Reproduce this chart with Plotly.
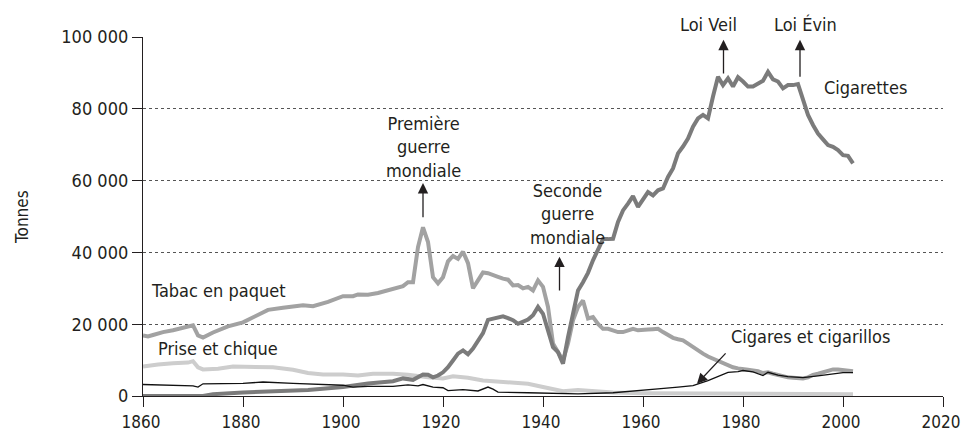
import plotly.graph_objects as go

# Consommation de tabac en France (tonnes)
tabac_years = [1860, 1861, 1862, 1864, 1866, 1868, 1870, 1871, 1872, 1874, 1877, 1880, 1884, 1885,
               1888, 1890, 1892, 1894, 1897, 1900, 1902, 1903, 1905, 1907, 1910, 1912, 1913, 1914,
               1915, 1916, 1917, 1918, 1919, 1920, 1921, 1922, 1923, 1924, 1925, 1926, 1927, 1928,
               1929, 1930, 1931, 1932, 1933, 1934, 1935, 1936, 1937, 1938, 1939, 1940, 1941, 1942,
               1943, 1944, 1945, 1946, 1947, 1948, 1949, 1950, 1951, 1952, 1953, 1954, 1955, 1956,
               1957, 1958, 1959, 1960, 1961, 1962, 1963, 1964, 1965, 1966, 1967, 1968, 1969, 1970,
               1971, 1972, 1973, 1974, 1975, 1976, 1977, 1978, 1979, 1980, 1981, 1982, 1983, 1984,
               1985, 1986, 1987, 1988, 1989, 1990, 1991, 1992, 1993, 1994, 1995, 1996, 1997, 1998,
               1999, 2000, 2001, 2002]
tabac = [16900, 16600, 17000, 17800, 18300, 19100, 19700, 16900, 16300, 17700, 19400, 20500, 23300, 24000,
         24600, 25000, 25300, 25000, 26200, 27800, 27800, 28300, 28200, 28700, 30000, 30600, 31700, 31700,
         41500, 47000, 42900, 33100, 31400, 33100, 37500, 39000, 38200, 40200, 37000, 30000, 32200, 34400,
         34200, 33800, 33200, 32700, 32400, 30800, 30900, 30000, 30400, 29400, 32200, 30400, 24800, 14600,
         12200, 9900, 14600, 21100, 24800, 26600, 21600, 22000, 20100, 18700, 18700, 18300, 17800, 17800,
         18300, 18700, 18300, 18500, 18500, 18600, 18700, 17800, 16900, 16200, 15800, 15500, 14600, 13600,
         12700, 11800, 11000, 10400, 9700, 9200, 8600, 8000, 7700, 7400, 7300, 7100, 6900, 6400,
         6600, 6200, 5800, 5400, 5200, 5100, 5100, 4900, 5200, 5900, 6200, 6600, 7100, 7400,
         7400, 7300, 7100, 6900]

cig_years = [1860, 1872, 1874, 1880, 1893, 1900, 1905, 1908, 1910, 1912, 1914, 1916, 1917, 1918,
             1919, 1920, 1921, 1922, 1923, 1924, 1925, 1926, 1927, 1928, 1929, 1930, 1931, 1932,
             1933, 1934, 1935, 1936, 1937, 1938, 1939, 1940, 1941, 1942, 1943, 1944, 1945, 1946,
             1947, 1948, 1949, 1950, 1951, 1952, 1953, 1954, 1955, 1956, 1957, 1958, 1959, 1960,
             1961, 1962, 1963, 1964, 1965, 1966, 1967, 1968, 1969, 1970, 1971, 1972, 1973, 1974,
             1975, 1976, 1977, 1978, 1979, 1980, 1981, 1982, 1983, 1984, 1985, 1986, 1987, 1988,
             1989, 1990, 1991, 1992, 1993, 1994, 1995, 1996, 1997, 1998, 1999, 2000, 2001, 2002]
cigarettes = [0, 0, 500, 1000, 1700, 2500, 3500, 3900, 4100, 4900, 4500, 6000, 5900, 5200,
              5700, 6600, 8000, 9900, 11800, 12700, 11600, 13200, 15500, 17500, 21200, 21500, 22000, 22200,
              21700, 21100, 20100, 20600, 21300, 22500, 24800, 22900, 18300, 13600, 12200, 9000, 16400, 22900,
              29400, 31700, 34300, 37800, 41100, 43700, 43700, 43800, 48500, 51700, 53600, 55700, 52700, 55000,
              56800, 55900, 57300, 57800, 61000, 63400, 67600, 69500, 71700, 75000, 77300, 78300, 77300, 83400,
              88900, 86600, 88500, 86200, 88800, 87600, 86200, 86200, 87100, 87800, 90300, 88200, 87600, 85700,
              86600, 86600, 86900, 82400, 78300, 75500, 73100, 71500, 69900, 69400, 68500, 67100, 66900, 64800]

prise_years = [1860, 1863, 1866, 1869, 1870, 1871, 1872, 1875, 1878, 1884, 1886, 1890, 1893, 1896,
               1900, 1903, 1906, 1910, 1913, 1917, 1920, 1922, 1925, 1928, 1933, 1937, 1940, 1942,
               1944, 1947, 1954, 1960, 1980, 2002]
prise = [8200, 8800, 9100, 9300, 9700, 8000, 7400, 7600, 8200, 8200, 8000, 7300, 6400, 6000,
         6000, 5700, 6200, 6200, 5900, 5200, 4900, 5500, 5100, 4300, 3900, 3400, 2500, 2000,
         1300, 1700, 1000, 800, 600, 500]

cigares_years = [1860, 1865, 1870, 1871, 1872, 1880, 1884, 1890, 1895, 1900, 1902, 1905, 1910, 1913,
                 1915, 1916, 1918, 1920, 1921, 1924, 1927, 1929, 1930, 1931, 1937, 1940, 1941, 1947,
                 1954, 1960, 1963, 1967, 1970, 1973, 1975, 1977, 1979, 1980, 1982, 1984, 1985, 1987,
                 1989, 1991, 1992, 1995, 1997, 2000, 2002]
cigares = [3200, 3100, 2800, 2500, 3400, 3500, 3900, 3500, 3200, 3000, 2500, 2700, 2700, 3100,
           2800, 3200, 2500, 2300, 1500, 1800, 1400, 2500, 1900, 1100, 900, 800, 600, 600,
           900, 1500, 2000, 2500, 2900, 4300, 5400, 6600, 6800, 7100, 6700, 5700, 6600, 5800,
           5400, 5200, 5100, 5600, 6000, 6500, 6500]

x_ticks = [1860, 1880, 1900, 1920, 1940, 1960, 1980, 2000, 2020]
y_ticks = [0, 20000, 40000, 60000, 80000, 100000]
y_labels = ["0", "20 000", "40 000", "60 000", "80 000", "100 000"]

FONT = "Liberation Sans Narrow, DejaVu Sans Condensed, Arial Narrow, sans-serif"
TXT = "#231f20"

fig = go.Figure()
fig.add_trace(go.Scatter(x=prise_years, y=prise, mode="lines", name="Prise et chique",
                         line=dict(color="#cdcdcd", width=4)))
fig.add_trace(go.Scatter(x=tabac_years, y=tabac, mode="lines", name="Tabac en paquet",
                         line=dict(color="#a2a2a2", width=4)))
fig.add_trace(go.Scatter(x=cig_years, y=cigarettes, mode="lines", name="Cigarettes",
                         line=dict(color="#7b7b7b", width=4)))
fig.add_trace(go.Scatter(x=cigares_years, y=cigares, mode="lines", name="Cigares et cigarillos",
                         line=dict(color="#111111", width=1.3)))

annotations = []
# series labels
for txt, x, y in [("Tabac en paquet", 1875, 29500), ("Prise et chique", 1875, 13300),
                  ("Cigarettes", 2004.5, 86000), ("Cigares et cigarillos", 1993.5, 16500)]:
    annotations.append(dict(x=x, y=y, text=txt, showarrow=False, xanchor="center", yanchor="middle"))

# event labels
annotations.append(dict(x=1916, y=69500, text="Première<br>guerre<br>mondiale", showarrow=False,
                        xanchor="center", yanchor="middle"))
annotations.append(dict(x=1944.8, y=50800, text="Seconde<br>guerre<br>mondiale", showarrow=False,
                        xanchor="center", yanchor="middle"))
annotations.append(dict(x=1973, y=1.034, yref="paper", text="Loi Veil", showarrow=False,
                        xanchor="center", yanchor="middle"))
annotations.append(dict(x=1992.4, y=1.034, yref="paper", text="Loi Évin", showarrow=False,
                        xanchor="center", yanchor="middle"))

# arrows
for x, y, ax, ay in [(1916, 59300, 1916, 49400), (1943.3, 38800, 1943.3, 29000),
                     (1976.1, 99200, 1976.1, 89400), (1991.4, 99200, 1991.4, 88500),
                     (1970.8, 3400, 1976.8, 12300)]:
    annotations.append(dict(x=x, y=y, ax=ax, ay=ay, xref="x", yref="y", axref="x", ayref="y",
                            text="", showarrow=True, arrowhead=2, arrowsize=1.6, arrowwidth=1.3,
                            arrowcolor=TXT))

annotations.append(dict(x=-0.152, y=0.5, xref="paper", yref="paper", text="Tonnes", textangle=-90,
                        showarrow=False, xanchor="center", yanchor="middle", font=dict(size=17)))

fig.update_layout(
    width=961, height=434,
    margin=dict(l=143, r=18, t=37, b=38),
    paper_bgcolor="white", plot_bgcolor="white",
    showlegend=False,
    font=dict(family=FONT, size=18, color=TXT),
    annotations=annotations,
    xaxis=dict(range=[1860, 2020], tickvals=x_ticks, ticks="outside", ticklen=10, tickwidth=1.3,
               tickcolor=TXT, showline=True, linecolor=TXT, linewidth=1.3, showgrid=False,
               zeroline=False, tickfont=dict(size=17), automargin=False,
               ticklabeloverflow="allow", ticklabelshift=-2),
    yaxis=dict(range=[0, 100000], tickvals=y_ticks, ticktext=y_labels, ticks="outside", ticklen=10,
               tickwidth=1.3, tickcolor=TXT, showline=True, linecolor=TXT, linewidth=1.3,
               showgrid=True, gridcolor="#555555", griddash="dot", gridwidth=1, zeroline=False,
               tickfont=dict(size=18), automargin=False, ticklabeloverflow="allow"),
)

# drop the default 8px page margin so the figure fills the window exactly
fig.write_html("out.html", config={"displayModeBar": False},
               post_script="document.body.style.margin='0';")
